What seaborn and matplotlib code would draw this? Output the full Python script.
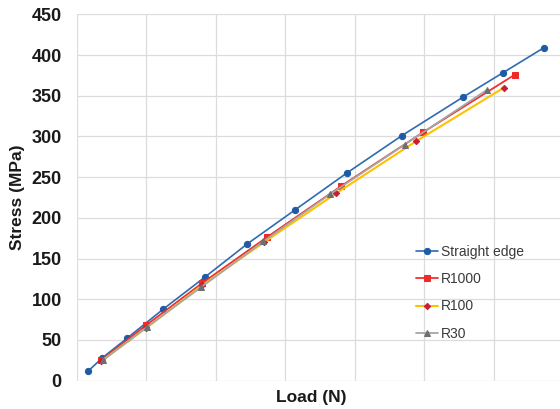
import matplotlib
matplotlib.use('Agg')
import seaborn as sns
import matplotlib.pyplot as plt

# load values (N) and stress (MPa)
straight_load = [163, 364, 719, 1242, 1837, 2450, 3141, 3881, 4675, 5549, 6125, 6719]
straight_stress = [12, 28, 52, 88, 127, 168, 210, 255, 301, 348, 378, 409]

r1000_load = [345, 993, 1803, 2730, 3800, 4978, 6302]
r1000_stress = [25, 68, 120, 176, 239, 305, 376]

r100_load = [350, 1000, 1800, 2690, 3727, 4878, 6144]
r100_stress = [24, 65, 117, 170, 230, 294, 360]

r30_load = [370, 1007, 1789, 2680, 3640, 4715, 5895]
r30_stress = [25, 66, 115, 171, 229, 290, 357]

series = [
    ('Straight edge', straight_load, straight_stress, '#2E6BB0', '#1F5BA5', 'o', 4.5, 1.2),
    ('R1000', r1000_load, r1000_stress, '#F03030', '#EE2A2A', 's', 4.5, 1.3),
    ('R100', r100_load, r100_stress, '#FFC000', '#C81E32', 'D', 3.2, 1.5),
    ('R30', r30_load, r30_stress, '#A6A6A6', '#6E6E6E', '^', 4.0, 1.3),
]

sns.set_style('whitegrid')
plt.rcParams['font.family'] = ['Liberation Sans', 'DejaVu Sans']

fig = plt.figure(figsize=(5.6, 4.09), dpi=100)
ax = fig.add_axes([77 / 560, 1 - 380.7 / 409, 1 - 77 / 560, (380.7 - 14.3) / 409])

for name, x, y, lc, mc, mk, ms, lw in series:
    sns.lineplot(x=x, y=y, ax=ax, color=lc, marker=mk, markersize=ms,
                 markerfacecolor=mc, markeredgecolor=mc, linewidth=lw,
                 label=name)

ax.set_xlim(0, 6950)
ax.set_ylim(0, 450)
ax.set_xticks(range(0, 7000, 1000))
ax.set_yticks(range(0, 451, 50))
ax.grid(True, color='#DCDCDC', linewidth=0.9)
for s in ax.spines.values():
    s.set_visible(False)
ax.tick_params(axis='both', length=0)
ax.tick_params(axis='x', labelbottom=False)
ax.tick_params(axis='y', pad=11, labelsize=13)
for t in ax.get_yticklabels():
    t.set_fontweight('bold')
    t.set_color('#1A1A1A')

ax.set_xlabel('Load (N)', fontsize=12.5, fontweight='bold', color='#1A1A1A')
ax.xaxis.set_label_coords((311 - 77) / (560 - 77), -0.025, transform=ax.transAxes)
ax.xaxis.label.set_va('top')
ax.set_ylabel('Stress (MPa)', fontsize=12.5, fontweight='bold', labelpad=5, color='#1A1A1A')

leg = ax.legend(loc='upper left', bbox_to_anchor=(416 / 560, 1 - 245 / 409),
                bbox_transform=fig.transFigure, frameon=False, fontsize=10,
                handlelength=1.6, handletextpad=0.2, labelspacing=0.95,
                borderaxespad=0, borderpad=0)
for t in leg.get_texts():
    t.set_color('#3A3A3A')

fig.savefig('out.png', dpi=100)
